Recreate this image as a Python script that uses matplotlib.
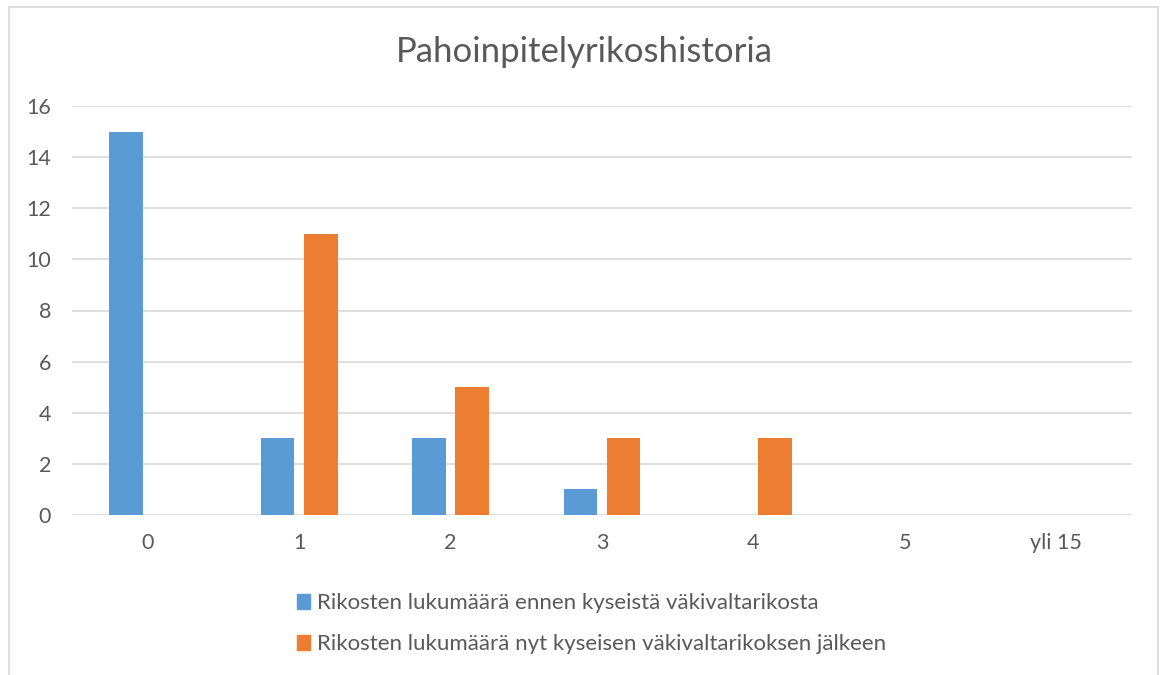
import numpy as np
import matplotlib.pyplot as plt
from matplotlib.patches import Patch, Rectangle

categories = ['0', '1', '2', '3', '4', '5', 'yli 15']
ennen = [15, 3, 3, 1, 0, 0, 0]
jalkeen = [0, 11, 5, 3, 3, 0, 0]
labels = ['Rikosten lukumäärä ennen kyseistä väkivaltarikosta',
          'Rikosten lukumäärä nyt kyseisen väkivaltarikoksen jälkeen']
title = 'Pahoinpitelyrikoshistoria'

blue = '#5b9bd5'
orange = '#ed7d31'
grey = '#595959'
gridc = '#d9d9d9'

plt.rcParams['font.family'] = ['Lato', 'DejaVu Sans']

fig = plt.figure(figsize=(11.6, 6.75), dpi=100)
fig.patches.append(Rectangle((9/1160, -0.01), 1149/1160, 1 - 7/675 + 0.01,
                             transform=fig.transFigure, fill=False,
                             edgecolor=gridc, lw=1.2))

ax = fig.add_axes([72/1160, 1 - 515/675, 1060/1160, 409/675])
x = np.arange(len(categories))
w = 0.222
ax.bar(x - 0.143, ennen, w, color=blue, zorder=3)
ax.bar(x + 0.143, jalkeen, w, color=orange, zorder=3)

ax.set_xlim(-0.5, len(categories) - 0.5)
ax.set_ylim(0, 16)
ax.set_yticks(range(0, 17, 2))
ax.set_xticks(x)
ax.set_xticklabels(categories)
ax.yaxis.grid(True, color=gridc, lw=1.2, zorder=0)
ax.set_axisbelow(True)
for s in ax.spines.values():
    s.set_visible(False)
ax.tick_params(length=0, labelsize=15.5, labelcolor=grey)
ax.tick_params(axis='y', pad=15)
ax.tick_params(axis='x', pad=13)

fig.text(0.504, 1 - 52/675, title, ha='center', va='center', fontsize=25, color=grey)

handles = [Patch(color=blue), Patch(color=orange)]
leg = fig.legend(handles, labels, loc='upper left', bbox_to_anchor=(286/1160, 1 - 582/675),
                 frameon=False, fontsize=16, labelcolor=grey, handlelength=0.6,
                 handleheight=0.7, handletextpad=0.3, labelspacing=0.95, borderpad=0)

fig.savefig('out.png', dpi=100)
